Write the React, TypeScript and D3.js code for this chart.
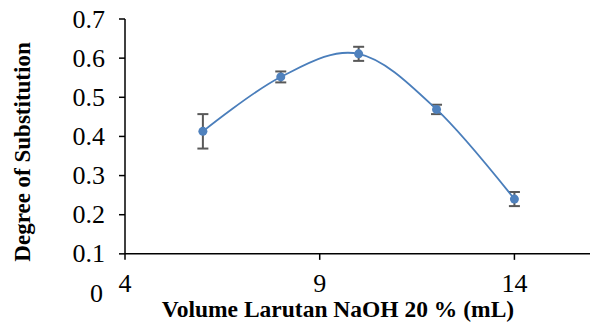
import React from "react";
import * as d3 from "d3";

const volumes = [6, 8, 10, 12, 14];
const dsValues = [0.413, 0.552, 0.611, 0.469, 0.24];
const dsErrors = [0.044, 0.014, 0.018, 0.012, 0.018];
const xTicks = [4, 9, 14];
const yTicks = [0.1, 0.2, 0.3, 0.4, 0.5, 0.6, 0.7];
const yZeroLabel = "0";
const xTitle = "Volume Larutan NaOH 20 % (mL)";
const yTitle = "Degree of Substitution";

export default function App() {
  const W = 590;
  const H = 327;
  const x = d3.scaleLinear().domain([4, 16]).range([125, 592.3]);
  const y = d3.scaleLinear().domain([0, 0.7]).range([293, 19]);
  const line = d3
    .line<number>()
    .x((_, i) => x(volumes[i]))
    .y((d) => y(d))
    .curve(d3.curveCatmullRom.alpha(0));
  const font = "'Liberation Serif', 'Times New Roman', serif";
  const axisY0 = y(0.1);
  const fsTick = 26;
  const fsTitle = 23.5;
  return (
    <svg
      width={W}
      height={H}
      style={{ position: "absolute", left: 0, top: 0, background: "#fff" }}
      fontFamily={font}
    >
      {/* axes */}
      <line x1={x(4)} x2={W} y1={axisY0} y2={axisY0} stroke="#000" strokeWidth={1.5} />
      <line x1={x(4)} x2={x(4)} y1={y(0.7)} y2={axisY0} stroke="#000" strokeWidth={1.5} />
      {yTicks.map((t) => (
        <g key={t}>
          <line x1={x(4) - 6} x2={x(4)} y1={y(t)} y2={y(t)} stroke="#000" strokeWidth={1.5} />
          <text x={105} y={y(t)} dy="0.33em" textAnchor="end" fontSize={fsTick}>
            {t.toFixed(1)}
          </text>
        </g>
      ))}
      <text x={103} y={y(0)} dy="0.33em" textAnchor="end" fontSize={fsTick}>
        {yZeroLabel}
      </text>
      {xTicks.map((t) => (
        <g key={t}>
          <line x1={x(t)} x2={x(t)} y1={axisY0} y2={axisY0 + 6} stroke="#000" strokeWidth={1.5} />
          <text x={x(t)} y={292} textAnchor="middle" fontSize={fsTick}>
            {t}
          </text>
        </g>
      ))}
      <text x={338} y={317} textAnchor="middle" fontSize={fsTitle} fontWeight="bold">
        {xTitle}
      </text>
      <text
        transform={`translate(30,152) rotate(-90)`}
        textAnchor="middle"
        fontSize={23}
        fontWeight="bold"
      >
        {yTitle}
      </text>
      {/* error bars */}
      {volumes.map((v, i) => {
        const cx = x(v);
        const top = y(dsValues[i] + dsErrors[i]);
        const bot = y(dsValues[i] - dsErrors[i]);
        return (
          <g key={v} stroke="#595959" strokeWidth={2}>
            <line x1={cx} x2={cx} y1={top} y2={bot} />
            <line x1={cx - 5.5} x2={cx + 5.5} y1={top} y2={top} />
            <line x1={cx - 5.5} x2={cx + 5.5} y1={bot} y2={bot} />
          </g>
        );
      })}
      <path d={line(dsValues) || ""} fill="none" stroke="#4A7EBB" strokeWidth={1.8} />
      {volumes.map((v, i) => (
        <circle key={v} cx={x(v)} cy={y(dsValues[i])} r={4.5} fill="#4F81BD" />
      ))}
    </svg>
  );
}
